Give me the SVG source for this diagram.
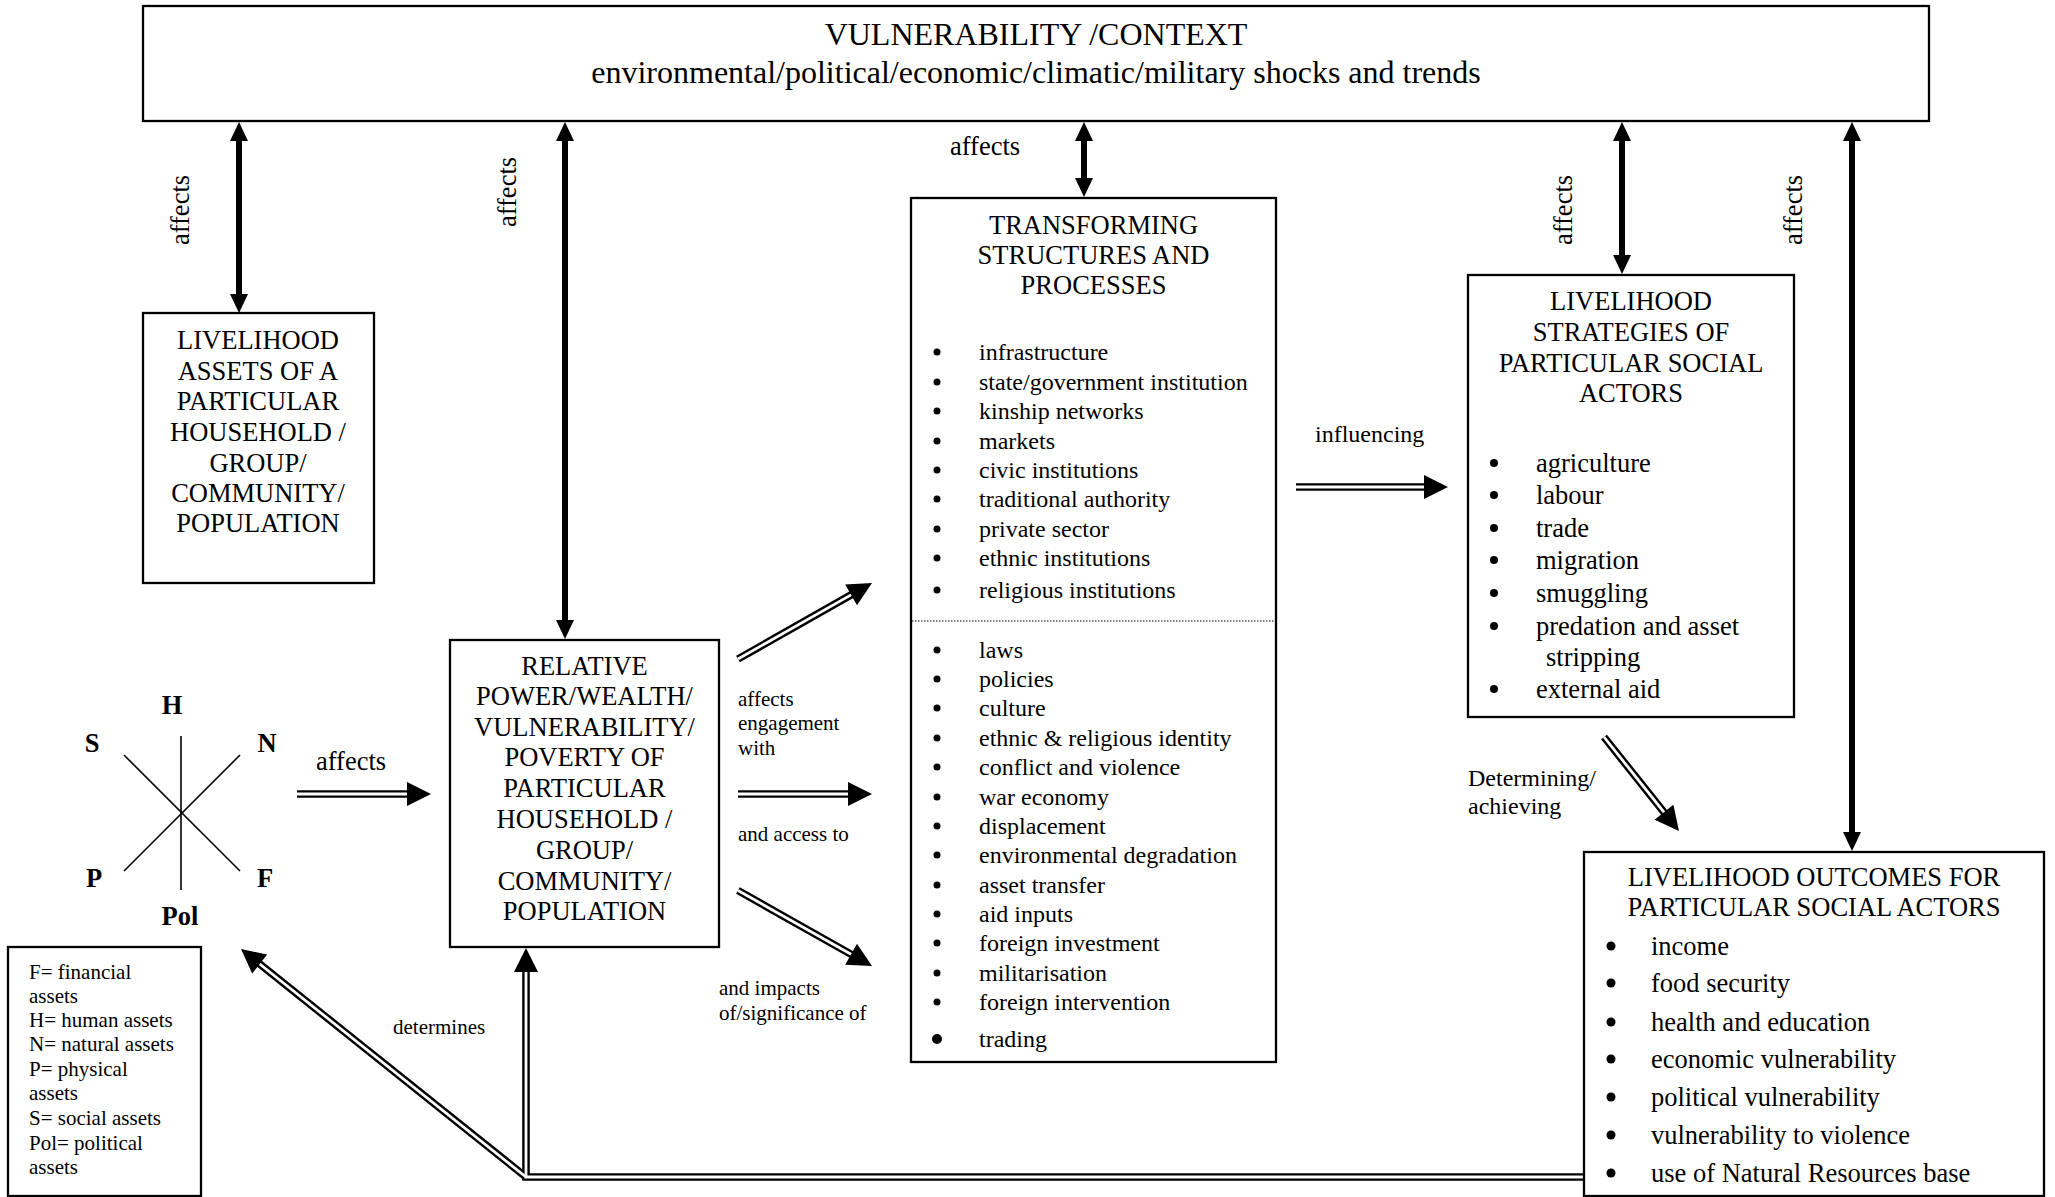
<svg xmlns="http://www.w3.org/2000/svg" width="2055" height="1197" viewBox="0 0 2055 1197">
<style>
text{font-family:"Liberation Serif","Times New Roman",serif;fill:#000}
.box{fill:#fff;stroke:#000;stroke-width:2.3}
.t32{font-size:32px;text-anchor:middle}
.tt{font-size:26.5px;text-anchor:middle}
.l24{font-size:24px}
.l26{font-size:26.5px}
.lab{font-size:21px}
.lab24{font-size:24px}
.aff{font-size:26.5px}
.hex{font-size:26.5px;font-weight:bold;text-anchor:middle}
.thick{stroke:#000;stroke-width:6;fill:none;marker-start:url(#ah);marker-end:url(#ah)}
.dbo{stroke:#000;stroke-width:7.6;fill:none}
.dbi{stroke:#fff;stroke-width:2.8;fill:none}
.head{fill:#000}
.hx{stroke:#000;stroke-width:1.6}
</style>
<defs>
<marker id="ah" markerUnits="userSpaceOnUse" markerWidth="19" markerHeight="18" refX="9" refY="9" orient="auto-start-reverse" viewBox="0 0 19 18">
<path d="M0,0 L19,9 L0,18 z" fill="#000"/>
</marker>
</defs>
<rect width="2055" height="1197" fill="#fff"/>

<g id="connectors">
<line class="thick" x1="239" y1="132" x2="239" y2="303"/>
<line class="thick" x1="565" y1="132" x2="565" y2="629"/>
<line class="thick" x1="1084" y1="132" x2="1084" y2="187"/>
<line class="thick" x1="1622" y1="132" x2="1622" y2="264"/>
<line class="thick" x1="1852" y1="132" x2="1852" y2="841"/>

<path class="dbo" d="M297,794 H412"/>
<path class="dbo" d="M738,659 L854.6,592.9"/>
<path class="dbo" d="M738,794 H852"/>
<path class="dbo" d="M738,890.5 L854.6,956.2"/>
<path class="dbo" d="M1296,487 H1429"/>
<path class="dbo" d="M1604,737 L1666.5,815.4"/>
<path class="dbo" d="M1584,1177 H526 V968"/>
<path class="dbo" d="M526,1177 L256.6,961.5"/>
<path class="dbi" d="M297,794 H412"/>
<path class="dbi" d="M738,659 L854.6,592.9"/>
<path class="dbi" d="M738,794 H852"/>
<path class="dbi" d="M738,890.5 L854.6,956.2"/>
<path class="dbi" d="M1296,487 H1429"/>
<path class="dbi" d="M1604,737 L1666.5,815.4"/>
<path class="dbi" d="M1584,1177 H526 V968"/>
<path class="dbi" d="M526,1177 L256.6,961.5"/>

<polygon class="head" points="431,794 407,782 407,806"/>
<polygon class="head" points="872,583 857.0,605.3 845.2,584.4"/>
<polygon class="head" points="872,794 848,782 848,806"/>
<polygon class="head" points="872,966 845.2,964.7 857.0,943.8"/>
<polygon class="head" points="1448,487 1424,475 1424,499"/>
<polygon class="head" points="1679,831 1654.6,819.7 1673.4,804.7"/>
<polygon class="head" points="526,948 514,972 538,972"/>
<polygon class="head" points="241,949 267.2,954.6 252.2,973.4"/>

<text class="aff" text-anchor="middle" transform="translate(189,210) rotate(-90)">affects</text>
<text class="aff" text-anchor="middle" transform="translate(516,192) rotate(-90)">affects</text>
<text class="aff" text-anchor="middle" transform="translate(1572,210) rotate(-90)">affects</text>
<text class="aff" text-anchor="middle" transform="translate(1802,210) rotate(-90)">affects</text>
<text class="aff" x="950" y="155">affects</text>
<text class="aff" x="316" y="770">affects</text>
<text class="lab24" x="1315" y="442">influencing</text>
<text class="lab" x="738" y="706">affects</text>
<text class="lab" x="738" y="730">engagement</text>
<text class="lab" x="738" y="755">with</text>
<text class="lab" x="738" y="841">and access to</text>
<text class="lab" x="719" y="995">and impacts</text>
<text class="lab" x="719" y="1020">of/significance of</text>
<text class="lab" x="393" y="1034">determines</text>
<text class="lab24" x="1468" y="786">Determining/</text>
<text class="lab24" x="1468" y="814">achieving</text>
</g>

<g id="vulnerability-context">
<rect class="box" x="143" y="6" width="1786" height="115"/>
<text class="t32" x="1036" y="45">VULNERABILITY /CONTEXT</text>
<text class="t32" x="1036" y="83">environmental/political/economic/climatic/military shocks and trends</text>
</g>

<g id="livelihood-assets">
<rect class="box" x="143" y="313" width="231" height="270"/>
<text class="tt" x="258" y="349">LIVELIHOOD</text>
<text class="tt" x="258" y="380">ASSETS OF A</text>
<text class="tt" x="258" y="410">PARTICULAR</text>
<text class="tt" x="258" y="441">HOUSEHOLD /</text>
<text class="tt" x="258" y="472">GROUP/</text>
<text class="tt" x="258" y="502">COMMUNITY/</text>
<text class="tt" x="258" y="532">POPULATION</text>
</g>

<g id="asset-hexagon">
<line class="hx" x1="181" y1="736" x2="181" y2="890"/>
<line class="hx" x1="124" y1="755" x2="240" y2="871"/>
<line class="hx" x1="240" y1="755" x2="124" y2="871"/>
<text class="hex" x="172" y="714">H</text>
<text class="hex" x="92" y="752">S</text>
<text class="hex" x="267" y="752">N</text>
<text class="hex" x="94" y="887">P</text>
<text class="hex" x="265" y="887">F</text>
<text class="hex" x="180" y="925">Pol</text>
</g>

<g id="legend">
<rect class="box" x="8" y="947" width="193" height="249"/>
<text class="lab" x="29" y="979">F= financial</text>
<text class="lab" x="29" y="1003">assets</text>
<text class="lab" x="29" y="1027">H= human assets</text>
<text class="lab" x="29" y="1051">N= natural assets</text>
<text class="lab" x="29" y="1076">P= physical</text>
<text class="lab" x="29" y="1100">assets</text>
<text class="lab" x="29" y="1125">S= social assets</text>
<text class="lab" x="29" y="1150">Pol= political</text>
<text class="lab" x="29" y="1174">assets</text>
</g>

<g id="relative-power">
<rect class="box" x="450" y="640" width="269" height="307"/>
<text class="tt" x="584.5" y="675">RELATIVE</text>
<text class="tt" x="584.5" y="705">POWER/WEALTH/</text>
<text class="tt" x="584.5" y="736">VULNERABILITY/</text>
<text class="tt" x="584.5" y="766">POVERTY OF</text>
<text class="tt" x="584.5" y="797">PARTICULAR</text>
<text class="tt" x="584.5" y="828">HOUSEHOLD /</text>
<text class="tt" x="584.5" y="859">GROUP/</text>
<text class="tt" x="584.5" y="890">COMMUNITY/</text>
<text class="tt" x="584.5" y="920">POPULATION</text>
</g>

<g id="transforming-structures">
<rect class="box" x="911" y="198" width="365" height="864"/>
<text class="tt" x="1093.5" y="234">TRANSFORMING</text>
<text class="tt" x="1093.5" y="264">STRUCTURES AND</text>
<text class="tt" x="1093.5" y="294">PROCESSES</text>
<g fill="#000">
<circle cx="937" cy="352" r="3.5"/><circle cx="937" cy="382" r="3.5"/><circle cx="937" cy="411" r="3.5"/>
<circle cx="937" cy="441" r="3.5"/><circle cx="937" cy="470" r="3.5"/><circle cx="937" cy="499" r="3.5"/>
<circle cx="937" cy="529" r="3.5"/><circle cx="937" cy="558" r="3.5"/><circle cx="937" cy="590" r="3.5"/>
<circle cx="937" cy="650" r="3.5"/><circle cx="937" cy="679" r="3.5"/><circle cx="937" cy="708" r="3.5"/>
<circle cx="937" cy="738" r="3.5"/><circle cx="937" cy="767" r="3.5"/><circle cx="937" cy="797" r="3.5"/>
<circle cx="937" cy="826" r="3.5"/><circle cx="937" cy="855" r="3.5"/><circle cx="937" cy="885" r="3.5"/>
<circle cx="937" cy="914" r="3.5"/><circle cx="937" cy="943" r="3.5"/><circle cx="937" cy="973" r="3.5"/>
<circle cx="937" cy="1002" r="3.5"/><circle cx="937" cy="1039" r="5"/>
</g>
<text class="l24" x="979" y="360">infrastructure</text>
<text class="l24" x="979" y="390">state/government institution</text>
<text class="l24" x="979" y="419">kinship networks</text>
<text class="l24" x="979" y="449">markets</text>
<text class="l24" x="979" y="478">civic institutions</text>
<text class="l24" x="979" y="507">traditional authority</text>
<text class="l24" x="979" y="537">private sector</text>
<text class="l24" x="979" y="566">ethnic institutions</text>
<text class="l24" x="979" y="598">religious institutions</text>
<line x1="912" y1="621" x2="1275" y2="621" stroke="#000" stroke-width="1" stroke-dasharray="1.5 1.5"/>
<text class="l24" x="979" y="658">laws</text>
<text class="l24" x="979" y="687">policies</text>
<text class="l24" x="979" y="716">culture</text>
<text class="l24" x="979" y="746">ethnic &amp; religious identity</text>
<text class="l24" x="979" y="775">conflict and violence</text>
<text class="l24" x="979" y="805">war economy</text>
<text class="l24" x="979" y="834">displacement</text>
<text class="l24" x="979" y="863">environmental degradation</text>
<text class="l24" x="979" y="893">asset transfer</text>
<text class="l24" x="979" y="922">aid inputs</text>
<text class="l24" x="979" y="951">foreign investment</text>
<text class="l24" x="979" y="981">militarisation</text>
<text class="l24" x="979" y="1010">foreign intervention</text>
<text class="l24" x="979" y="1047">trading</text>
</g>

<g id="livelihood-strategies">
<rect class="box" x="1468" y="275" width="326" height="442"/>
<text class="tt" x="1631" y="310">LIVELIHOOD</text>
<text class="tt" x="1631" y="341">STRATEGIES OF</text>
<text class="tt" x="1631" y="372">PARTICULAR SOCIAL</text>
<text class="tt" x="1631" y="402">ACTORS</text>
<g fill="#000">
<circle cx="1494" cy="463" r="4"/><circle cx="1494" cy="495" r="4"/><circle cx="1494" cy="528" r="4"/>
<circle cx="1494" cy="560" r="4"/><circle cx="1494" cy="593" r="4"/><circle cx="1494" cy="626" r="4"/>
<circle cx="1494" cy="689" r="4"/>
</g>
<text class="l26" x="1536" y="472">agriculture</text>
<text class="l26" x="1536" y="504">labour</text>
<text class="l26" x="1536" y="537">trade</text>
<text class="l26" x="1536" y="569">migration</text>
<text class="l26" x="1536" y="602">smuggling</text>
<text class="l26" x="1536" y="635">predation and asset</text>
<text class="l26" x="1546" y="666">stripping</text>
<text class="l26" x="1536" y="698">external aid</text>
</g>

<g id="livelihood-outcomes">
<rect class="box" x="1584" y="852" width="460" height="344"/>
<text class="tt" x="1814" y="886">LIVELIHOOD OUTCOMES FOR</text>
<text class="tt" x="1814" y="916">PARTICULAR SOCIAL ACTORS</text>
<g fill="#000">
<circle cx="1611" cy="946" r="4.5"/><circle cx="1611" cy="983" r="4.5"/><circle cx="1611" cy="1022" r="4.5"/>
<circle cx="1611" cy="1059" r="4.5"/><circle cx="1611" cy="1097" r="4.5"/><circle cx="1611" cy="1135" r="4.5"/>
<circle cx="1611" cy="1173" r="4.5"/>
</g>
<text class="l26" x="1651" y="955">income</text>
<text class="l26" x="1651" y="992">food security</text>
<text class="l26" x="1651" y="1031">health and education</text>
<text class="l26" x="1651" y="1068">economic vulnerability</text>
<text class="l26" x="1651" y="1106">political vulnerability</text>
<text class="l26" x="1651" y="1144">vulnerability to violence</text>
<text class="l26" x="1651" y="1182">use of Natural Resources base</text>
</g>
</svg>
